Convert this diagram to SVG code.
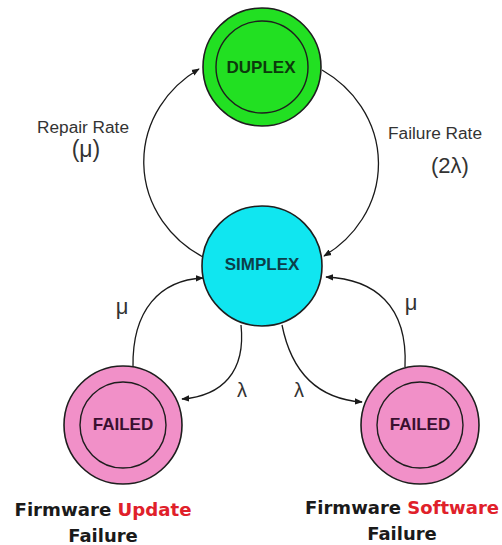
<svg xmlns="http://www.w3.org/2000/svg" width="502" height="545" viewBox="0 0 502 545">
  <style>
    .node { stroke: #1e1e1e; stroke-width: 1.6; }
    .inner { fill: none; stroke: #1e1e1e; stroke-width: 1.4; }
    .name { font-family: "Liberation Sans", Arial, sans-serif; font-weight: bold; font-size: 17px; text-anchor: middle; }
    .edge { fill: none; stroke: #1a1a1a; stroke-width: 1.3; }
    .rate { font-family: "Liberation Sans", Arial, sans-serif; fill: #333; text-anchor: middle; }
    .cap { font-family: "DejaVu Sans", Verdana, sans-serif; font-weight: bold; font-size: 18px; fill: #1a1a1a; text-anchor: middle; }
    .hot { fill: #e0202a; }
  </style>
  <defs>
    <marker id="arrow" viewBox="0 0 10 10" refX="9" refY="5" markerWidth="8" markerHeight="8" markerUnits="userSpaceOnUse" orient="auto">
      <path d="M0,1 L10,5 L0,9 Z" fill="#1a1a1a"/>
    </marker>
  </defs>
  <rect width="502" height="545" fill="#ffffff"/>

  <!-- transitions -->
  <g id="connectors">
    <!-- SIMPLEX -> DUPLEX (repair) -->
    <path class="edge" d="M203,257 A119,110 0 0 1 199,69" marker-end="url(#arrow)"/>
    <!-- DUPLEX -> SIMPLEX (failure) -->
    <path class="edge" d="M322,70 A119,110 0 0 1 324,256" marker-end="url(#arrow)"/>
    <!-- FAILED (update) -> SIMPLEX -->
    <path class="edge" d="M133,367 C132,310 160,280 203,278" marker-end="url(#arrow)"/>
    <!-- SIMPLEX -> FAILED (update) -->
    <path class="edge" d="M241,325 C246,372 222,396 182,399" marker-end="url(#arrow)"/>
    <!-- SIMPLEX -> FAILED (software) -->
    <path class="edge" d="M282,325 C292,375 320,399 362,402" marker-end="url(#arrow)"/>
    <!-- FAILED (software) -> SIMPLEX -->
    <path class="edge" d="M405,367 C408,305 374,279 326,277" marker-end="url(#arrow)"/>
  </g>

  <!-- rate labels -->
  <g id="labels">
    <text class="rate" x="83" y="133" font-size="16" textLength="92" lengthAdjust="spacingAndGlyphs">Repair Rate</text>
    <text class="rate" x="86" y="157" font-size="23">(μ)</text>
    <text class="rate" x="435" y="139" font-size="16" textLength="94" lengthAdjust="spacingAndGlyphs">Failure Rate</text>
    <text class="rate" x="450" y="173" font-size="22">(2λ)</text>
    <text class="rate" x="122" y="314" font-size="22">μ</text>
    <text class="rate" x="411" y="310" font-size="22">μ</text>
    <text class="rate" x="242" y="397" font-size="20">λ</text>
    <text class="rate" x="299" y="397" font-size="20">λ</text>
  </g>

  <g id="duplex">
    <circle class="node" cx="262" cy="67" r="59" fill="#22e022"/>
    <circle class="inner" cx="262" cy="67" r="46"/>
    <text class="name" x="261" y="73" fill="#0c3a0c">DUPLEX</text>
  </g>

  <g id="simplex">
    <circle class="node" cx="262" cy="266" r="60" fill="#10e6f0"/>
    <text class="name" x="262" y="270" fill="#0c3f4a">SIMPLEX</text>
  </g>

  <g id="failed-update">
    <circle class="node" cx="123" cy="425" r="59" fill="#f190c8"/>
    <circle class="inner" cx="123" cy="425" r="43"/>
    <text class="name" x="123" y="430" fill="#3a1030">FAILED</text>
    <text class="cap" x="103" y="516" textLength="177" lengthAdjust="spacingAndGlyphs">Firmware <tspan class="hot">Update</tspan></text>
    <text class="cap" x="103" y="542">Failure</text>
  </g>

  <g id="failed-software">
    <circle class="node" cx="420" cy="425" r="59" fill="#f190c8"/>
    <circle class="inner" cx="420" cy="425" r="43"/>
    <text class="name" x="420" y="430" fill="#3a1030">FAILED</text>
    <text class="cap" x="402" y="514" textLength="194" lengthAdjust="spacingAndGlyphs">Firmware <tspan class="hot">Software</tspan></text>
    <text class="cap" x="402" y="540">Failure</text>
  </g>
</svg>
